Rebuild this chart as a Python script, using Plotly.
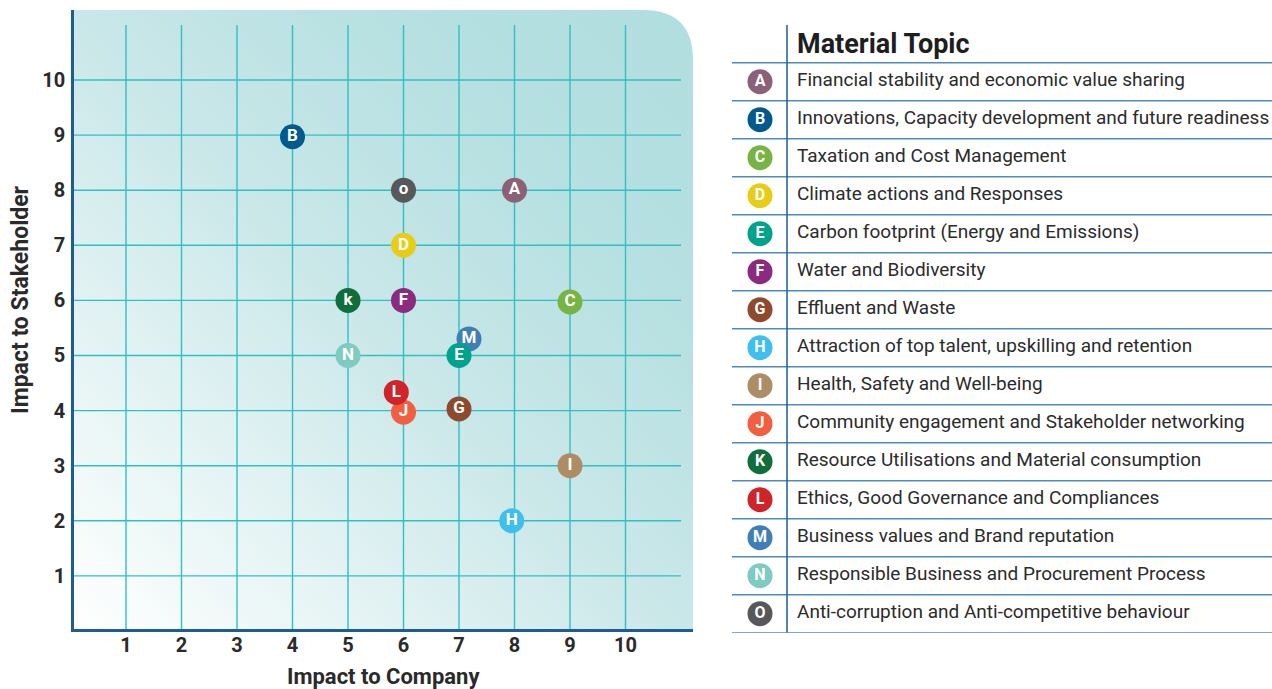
import base64
import plotly.graph_objects as go

# ---------------- data ----------------
codes = ["A", "B", "C", "D", "E", "F", "G", "H", "I", "J", "K", "L", "M", "N", "O"]
plot_labels = ["A", "B", "C", "D", "E", "F", "G", "H", "I", "J", "k", "L", "M", "N", "o"]
impact_company = [8, 4, 9, 6, 7, 6, 7, 7.95, 9, 6, 5, 5.87, 7.18, 5, 6]
impact_stakeholder = [8, 8.97, 5.97, 7, 5, 6, 4.03, 2, 3, 3.97, 6, 4.33, 5.3, 5, 8]
topics = [
    "Financial stability and economic value sharing",
    "Innovations, Capacity development and future readiness",
    "Taxation and Cost Management",
    "Climate actions and Responses",
    "Carbon footprint (Energy and Emissions)",
    "Water and Biodiversity",
    "Effluent and Waste",
    "Attraction of top talent, upskilling and retention",
    "Health, Safety and Well-being",
    "Community engagement and Stakeholder networking",
    "Resource Utilisations and Material consumption",
    "Ethics, Good Governance and Compliances",
    "Business values and Brand reputation",
    "Responsible Business and Procurement Process",
    "Anti-corruption and Anti-competitive behaviour",
]
colors = ["#8b6079", "#005a8e", "#78b443", "#e8cc16", "#00a38b", "#8a2b7f",
          "#8e4a2e", "#3fbfee", "#ae8d66", "#f15f40", "#0f6e3b", "#d1232a",
          "#3f7fb6", "#7dcbc1", "#57585a"]
draw_order = ["A", "B", "C", "D", "M", "E", "F", "G", "H", "I", "J", "L", "K", "N", "O"]
x_ticks = [1, 2, 3, 4, 5, 6, 7, 8, 9, 10]
y_ticks = [1, 2, 3, 4, 5, 6, 7, 8, 9, 10]
grid_max = 11

W, H = 1272, 689
FONT = "Roboto"
GRID = "#30bfc3"
AXIS = "#1c5d93"

# main plot geometry (pixels)
px_l, px_r, px_t, px_b = 74, 693, 10, 629
x_range = [0.063, 11.216]
y_range = [0.036, 11.27]

fig = go.Figure()

# gradient rounded background as svg image
wpx, hpx = px_r - px_l, px_b - px_t
r = 50
svg = f'''<svg xmlns="http://www.w3.org/2000/svg" width="{wpx}" height="{hpx}" viewBox="0 0 {wpx} {hpx}" preserveAspectRatio="none">
<defs><linearGradient id="g" x1="0" y1="1" x2="1" y2="0">
<stop offset="0" stop-color="#ffffff"/><stop offset="0.5" stop-color="#c9e7e8"/><stop offset="0.75" stop-color="#b6e0e1"/><stop offset="1" stop-color="#b1dedf"/>
</linearGradient></defs>
<path d="M0,0 L{wpx-r},0 Q{wpx},0 {wpx},{r} L{wpx},{hpx} L0,{hpx} Z" fill="url(#g)"/></svg>'''
src = "data:image/svg+xml;base64," + base64.b64encode(svg.encode()).decode()
fig.add_layout_image(dict(source=src, xref="x", yref="y", x=x_range[0], y=y_range[1],
                          sizex=x_range[1] - x_range[0], sizey=y_range[1] - y_range[0],
                          sizing="stretch", layer="below"))

# gridlines
for v in x_ticks:
    fig.add_shape(type="line", xref="x", yref="y", x0=v, x1=v, y0=y_range[0], y1=grid_max,
                  line=dict(color=GRID, width=1.4), layer="between")
for v in y_ticks:
    fig.add_shape(type="line", xref="x", yref="y", y0=v, y1=v, x0=x_range[0], x1=grid_max,
                  line=dict(color=GRID, width=1.4), layer="between")

# points
idx = [codes.index(c) for c in draw_order]
fig.add_trace(go.Scatter(
    x=[impact_company[i] for i in idx], y=[impact_stakeholder[i] for i in idx],
    text=[plot_labels[i] for i in idx], mode="markers+text", textposition="middle center",
    marker=dict(size=25, color=[colors[i] for i in idx], line=dict(width=0), opacity=1),
    textfont=dict(family=FONT, size=17, color="white", weight="bold"),
    hoverinfo="skip", showlegend=False, xaxis="x", yaxis="y", cliponaxis=False))

# ---------------- table ----------------
n = len(codes)
rows = list(range(1, n + 1))
tbl_l = 732
fig.add_trace(go.Scatter(
    x=[28] * n, y=rows, text=codes, mode="markers+text", textposition="middle center",
    marker=dict(size=25, color=colors, line=dict(width=0)),
    textfont=dict(family=FONT, size=16, color="white", weight="bold"),
    hoverinfo="skip", showlegend=False, xaxis="x2", yaxis="y2", cliponaxis=False))
for i, t in enumerate(topics):
    fig.add_annotation(x=63, y=rows[i] - 0.06, xref="x2", yref="y2", text=t, showarrow=False,
                       xanchor="left", yanchor="middle",
                       font=dict(family=FONT, size=19, color="#2b2b2b"))
fig.add_annotation(x=63, y=0, xref="x2", yref="y2", text="Material Topic", showarrow=False,
                   xanchor="left", yanchor="middle",
                   font=dict(family=FONT, size=27, color="#1e1e1e", weight="bold"))
for k in range(n + 1):
    fig.add_shape(type="line", xref="x2", yref="y2", x0=0, x1=W - tbl_l, y0=k + 0.5, y1=k + 0.5,
                  line=dict(color="#4f8bbb", width=1.5))
fig.add_shape(type="line", xref="x2", yref="y2", x0=55, x1=55, y0=-0.5, y1=n + 0.5,
              line=dict(color=AXIS, width=1.5))

# axis titles
fig.add_annotation(x=(px_l + px_r) / 2 / W, y=(H - 676) / H, xref="paper", yref="paper",
                   text="Impact to Company", showarrow=False, xanchor="center", yanchor="middle",
                   font=dict(family=FONT, size=22, color="#2a2a2a", weight="bold"))
fig.add_annotation(x=20 / W, y=(H - 300) / H, xref="paper", yref="paper",
                   text="Impact to Stakeholder", showarrow=False, textangle=-90,
                   xanchor="center", yanchor="middle",
                   font=dict(family=FONT, size=23, color="#2a2a2a", weight="bold"))

tick_font = dict(family=FONT, size=20, color="#2a2a2a", weight="bold")
fig.update_layout(
    width=W, height=H, margin=dict(l=0, r=0, t=0, b=0),
    paper_bgcolor="white", plot_bgcolor="rgba(0,0,0,0)",
    xaxis=dict(domain=[px_l / W, px_r / W], range=x_range, tickvals=x_ticks,
               showgrid=False, zeroline=False, showline=True, linecolor=AXIS, linewidth=2.5,
               ticks="", ticklen=0, tickfont=tick_font, ticklabelstandoff=-4, fixedrange=True),
    yaxis=dict(domain=[(H - px_b) / H, (H - px_t) / H], range=y_range, tickvals=y_ticks,
               showgrid=False, zeroline=False, showline=True, linecolor=AXIS, linewidth=2.5,
               ticks="", ticklen=0, tickfont=tick_font, ticklabelstandoff=2, fixedrange=True),
    xaxis2=dict(domain=[tbl_l / W, 1], range=[0, W - tbl_l], visible=False, fixedrange=True),
    yaxis2=dict(domain=[(H - 632.7) / H, (H - 24.7) / H], range=[n + 0.5, -0.5],
                visible=False, fixedrange=True),
)

fig.write_html("out.html", config={"displayModeBar": False},
               post_script="document.body.style.margin='0px';document.body.style.overflow='hidden';")
